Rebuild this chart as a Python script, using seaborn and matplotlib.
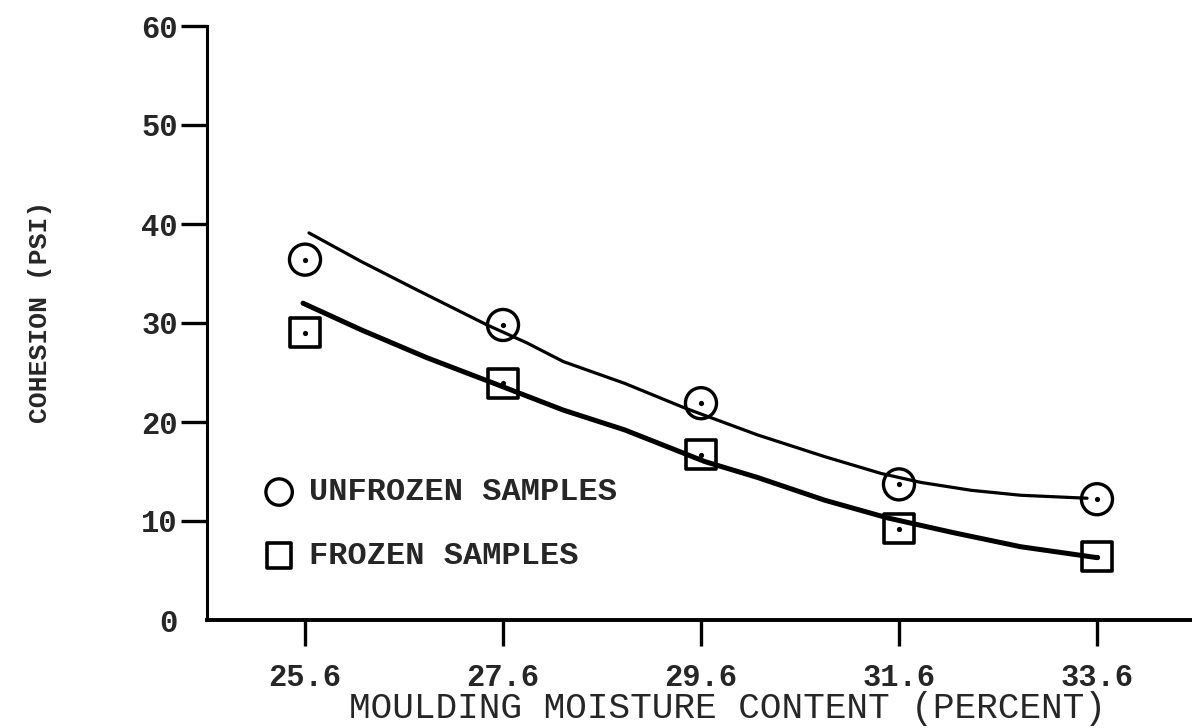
import matplotlib
matplotlib.use('Agg')
import matplotlib.pyplot as plt
import pandas as pd
import seaborn as sns

# moisture content (percent) of the test points
moisture = [25.6, 27.6, 29.6, 31.6, 33.6]
unfrozen_cohesion = [36.4, 29.8, 21.9, 13.7, 12.2]
frozen_cohesion = [29.0, 23.9, 16.7, 9.2, 6.4]

# hand drawn curves
unfrozen_curve_x = [25.64, 26.17, 26.70, 27.18, 27.44, 27.84, 28.21, 28.83, 29.44,
                    30.17, 30.85, 31.42, 31.82, 32.33, 32.83, 33.50]
unfrozen_curve_y = [39.1, 36.2, 33.5, 31.1, 29.8, 28.0, 26.1, 23.9, 21.4,
                    18.7, 16.5, 14.8, 13.9, 13.1, 12.6, 12.3]
frozen_curve_x = [25.58, 26.17, 26.83, 27.51, 28.21, 28.83, 29.64, 30.17, 30.85,
                  31.49, 32.16, 32.83, 33.60]
frozen_curve_y = [32.0, 29.3, 26.5, 23.9, 21.2, 19.2, 16.0, 14.4, 12.1,
                  10.3, 8.8, 7.4, 6.3]

x_ticks = [25.6, 27.6, 29.6, 31.6, 33.6]
x_tick_labels = ['25.6', '27.6', '29.6', '31.6', '33.6']
y_ticks = [0, 10, 20, 30, 40, 50, 60]
y_tick_labels = ['0', '10', '20', '30', '40', '50', '60']

sns.set_style('white')
plt.rcParams['font.family'] = ['Liberation Mono', 'DejaVu Sans']
plt.rcParams['lines.solid_capstyle'] = 'round'
plt.rcParams['lines.solid_joinstyle'] = 'round'

points = pd.DataFrame({'moisture': moisture,
                       'unfrozen': unfrozen_cohesion,
                       'frozen': frozen_cohesion})

fig = plt.figure(figsize=(11.92, 7.28), dpi=100)
ax = fig.add_axes([207 / 1192, 1 - 620 / 728, 985 / 1192, 594 / 728])

sns.lineplot(x=unfrozen_curve_x, y=unfrozen_curve_y, ax=ax, color='black',
             linewidth=2.3, sort=True, estimator=None)
sns.lineplot(x=frozen_curve_x, y=frozen_curve_y, ax=ax, color='black',
             linewidth=3.6, sort=True, estimator=None)

sns.scatterplot(data=points, x='moisture', y='unfrozen', ax=ax, marker='o', s=500,
                facecolor='none', edgecolor='black', linewidth=2.4,
                label='UNFROZEN SAMPLES', zorder=3)
sns.scatterplot(data=points, x='moisture', y='frozen', ax=ax, marker='s', s=440,
                facecolor='none', edgecolor='black', linewidth=2.6,
                label='FROZEN SAMPLES', zorder=3)
# little centre dots inside every mark
sns.scatterplot(data=points, x='moisture', y='unfrozen', ax=ax, s=14, color='black',
                linewidth=0, zorder=4)
sns.scatterplot(data=points, x='moisture', y='frozen', ax=ax, s=14, color='black',
                linewidth=0, zorder=4)

ax.set_xlim(24.61, 34.56)
ax.set_ylim(0, 60)
ax.set_xticks(x_ticks)
ax.set_xticklabels(x_tick_labels)
ax.set_yticks(y_ticks)
ax.set_yticklabels(y_tick_labels)

for lab in ax.get_xticklabels() + ax.get_yticklabels():
    lab.set_fontsize(22)
    lab.set_fontweight('bold')

ax.tick_params(axis='both', which='major', bottom=True, left=True, direction='out',
               length=19, width=2.4, color='black')
ax.tick_params(axis='x', pad=12)
ax.tick_params(axis='y', pad=2)
ax.yaxis.get_major_ticks()[0].tick1line.set_visible(False)

for side in ['top', 'right']:
    ax.spines[side].set_visible(False)
ax.spines['left'].set_linewidth(2.2)
ax.spines['bottom'].set_linewidth(2.8)
ax.spines['left'].set_color('black')
ax.spines['bottom'].set_color('black')

ax.set_xlabel('MOULDING MOISTURE CONTENT (PERCENT)', fontsize=26)
ax.set_ylabel('COHESION (PSI)', fontsize=19, fontweight='bold')
ax.xaxis.set_label_coords(0.528, -0.12)
ax.yaxis.set_label_coords(-0.157, 0.518)

leg = ax.legend(loc='upper left', bbox_to_anchor=(0.057, 0.24), frameon=False,
                fontsize=23, markerscale=0.85, handlelength=1.0, handletextpad=0.45,
                labelspacing=1.05, borderpad=0, borderaxespad=0)
for t in leg.get_texts():
    t.set_fontweight('bold')

fig.savefig('out.png', dpi=100)
